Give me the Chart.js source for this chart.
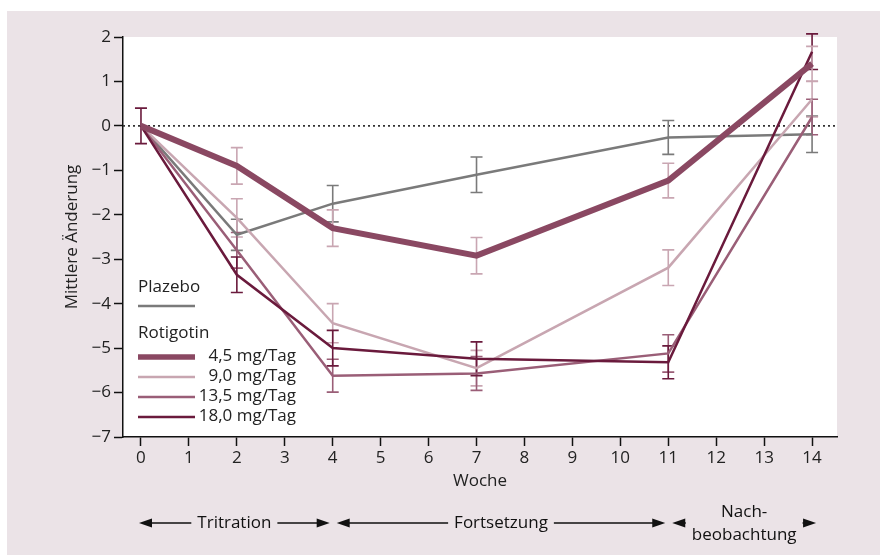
<!DOCTYPE html>
<html>
<head>
<meta charset="utf-8">
<script src="https://cdn.jsdelivr.net/npm/chart.js@4.4.1/dist/chart.umd.min.js"></script>
<style>
    html, body { margin: 0; padding: 0; background: #fff; }
    #wrap { width: 880px; height: 556px; position: relative; }
</style>
</head>
<body>
<div id="wrap"><canvas id="wocheChart"></canvas></div>
<script>
// Werte
const weeks = [0, 2, 4, 7, 11, 14];
const plazebo = [0, -2.45, -1.75, -1.1, -0.26, -0.19];
const plazeboErr = [0, 0.35, 0.41, 0.4, 0.38, 0.41];
const rot45 = [0, -0.9, -2.3, -2.92, -1.23, 1.4];
const rot45Err = [0, 0.41, 0.41, 0.41, 0.39, 0.39];
const rot90 = [0, -2.07, -4.44, -5.45, -3.19, 0.6];
const rot90Err = [0, 0.43, 0.44, 0.4, 0.4, 0.4];
const rot135 = [0, -2.8, -5.62, -5.57, -5.12, 0.2];
const rot135Err = [0, 0.4, 0.37, 0.38, 0.42, 0.4];
const rot180 = [0, -3.35, -5.0, -5.24, -5.32, 1.67];
const rot180Err = [0.4, 0.4, 0.4, 0.38, 0.37, 0.4];
const xTicks = [0, 1, 2, 3, 4, 5, 6, 7, 8, 9, 10, 11, 12, 13, 14];
const yTicks = [-7, -6, -5, -4, -3, -2, -1, 0, 1, 2];
const phaseLabels = [['Tritration'], ['Fortsetzung'], ['Nach-', 'beobachtung']];
const phaseBounds = [[0, 4], [4, 11], [11, 14]];

const FONT = '"Open Sans", "Noto Sans", sans-serif';
const TEXT = '#222';

function points(values) {
    return weeks.map((w, i) => ({ x: w, y: values[i] }));
}

function series(label, values, errors, color, errorColor, width) {
    return {
        label: label,
        data: points(values),
        errors: errors,
        errorColor: errorColor,
        borderColor: color,
        backgroundColor: color,
        borderWidth: width,
        pointRadius: 0,
        tension: 0,
        fill: false
    };
}

const datasets = [
    series('4,5 mg/Tag', rot45, rot45Err, '#8a4862', '#c9a6b2', 6),
    series('18,0 mg/Tag', rot180, rot180Err, '#6a1a3c', '#6a1a3c', 2.5),
    series('13,5 mg/Tag', rot135, rot135Err, '#9a5e77', '#9a5e77', 2.5),
    series('9,0 mg/Tag', rot90, rot90Err, '#c8a6b1', '#c9a6b2', 2.5),
    series('Plazebo', plazebo, plazeboErr, '#7a7a7a', '#7a7a7a', 2.5)
];

const panelPlugin = {
    id: 'panel',
    beforeDraw(chart) {
        const { ctx, chartArea: a } = chart;
        ctx.save();
        ctx.fillStyle = '#ebe3e7';
        ctx.fillRect(7, 11, chart.width - 7, chart.height - 12);
        ctx.fillStyle = '#fff';
        ctx.fillRect(a.left, a.top, a.right - a.left, a.bottom - a.top);
        ctx.restore();
    },
    beforeDatasetsDraw(chart) {
        const { ctx, chartArea: a, scales: { x, y } } = chart;
        ctx.save();
        // gepunktete Nulllinie
        const y0 = y.getPixelForValue(0);
        ctx.strokeStyle = '#333';
        ctx.lineWidth = 1.6;
        ctx.setLineDash([2, 3]);
        ctx.beginPath();
        ctx.moveTo(a.left, y0);
        ctx.lineTo(a.right, y0);
        ctx.stroke();
        ctx.setLineDash([]);

        // Fehlerbalken
        ctx.lineWidth = 1.6;
        chart.data.datasets.slice().reverse().forEach(ds => {
            ctx.strokeStyle = ds.errorColor;
            ds.data.forEach((p, i) => {
                const e = ds.errors[i];
                if (!e) return;
                const px = x.getPixelForValue(p.x);
                const top = y.getPixelForValue(p.y + e);
                const bot = y.getPixelForValue(p.y - e);
                ctx.beginPath();
                ctx.moveTo(px, top);
                ctx.lineTo(px, bot);
                ctx.moveTo(px - 6, top);
                ctx.lineTo(px + 6, top);
                ctx.moveTo(px - 6, bot);
                ctx.lineTo(px + 6, bot);
                ctx.stroke();
            });
        });
        ctx.restore();
    }
};

const legendPlugin = {
    id: 'doseLegend',
    afterDatasetsDraw(chart) {
        const { ctx, chartArea: a } = chart;
        const x0 = a.left + 15;
        const x1 = a.left + 72;
        const tx = a.left + 173;
        ctx.save();
        ctx.font = '17px ' + FONT;
        ctx.fillStyle = TEXT;
        ctx.textBaseline = 'middle';
        ctx.textAlign = 'left';
        ctx.fillText('Plazebo', x0, a.bottom - 150);
        ctx.strokeStyle = '#7a7a7a';
        ctx.lineWidth = 2.5;
        ctx.beginPath();
        ctx.moveTo(x0, a.bottom - 131);
        ctx.lineTo(x1, a.bottom - 131);
        ctx.stroke();
        ctx.fillText('Rotigotin', x0, a.bottom - 104);

        const order = [0, 3, 2, 1];
        order.forEach((idx, i) => {
            const ds = chart.data.datasets[idx];
            const ly = a.bottom - 80 + i * 20;
            ctx.strokeStyle = ds.borderColor;
            ctx.lineWidth = idx === 0 ? 5.5 : 2.5;
            ctx.beginPath();
            ctx.moveTo(x0, ly);
            ctx.lineTo(x1, ly);
            ctx.stroke();
            ctx.textAlign = 'right';
            ctx.fillText(ds.label, tx, ly - 1);
        });
        ctx.restore();
    }
};

const phasePlugin = {
    id: 'phases',
    afterDraw(chart) {
        const { ctx, scales: { x } } = chart;
        const ay = 523;
        ctx.save();
        ctx.font = '17px ' + FONT;
        ctx.fillStyle = '#111';
        ctx.strokeStyle = '#111';
        ctx.lineWidth = 1.5;
        ctx.textAlign = 'center';
        ctx.textBaseline = 'middle';

        function head(tip, dir) {
            ctx.beginPath();
            ctx.moveTo(tip, ay);
            ctx.lineTo(tip + dir * 13, ay - 4.5);
            ctx.lineTo(tip + dir * 13, ay + 4.5);
            ctx.closePath();
            ctx.fill();
        }

        phaseBounds.forEach((b, i) => {
            const left = x.getPixelForValue(b[0]) + (i === 0 ? -2 : 4);
            const right = x.getPixelForValue(b[1]) + (i === 2 ? 4 : -3);
            const lines = phaseLabels[i];
            const cx = (left + right) / 2;
            const w = Math.max(...lines.map(t => ctx.measureText(t).width));
            if (lines.length === 1) {
                ctx.fillText(lines[0], cx, ay);
            } else {
                ctx.fillText(lines[0], cx, ay - 11);
                ctx.fillText(lines[1], cx, ay + 12);
            }
            ctx.beginPath();
            ctx.moveTo(left + 10, ay);
            ctx.lineTo(cx - w / 2 - 6, ay);
            ctx.moveTo(cx + w / 2 + 6, ay);
            ctx.lineTo(right - 10, ay);
            ctx.stroke();
            head(left, 1);
            head(right, -1);
        });
        ctx.restore();
    }
};

new Chart(document.getElementById('wocheChart'), {
    type: 'line',
    data: { datasets: datasets },
    options: {
        responsive: true,
        maintainAspectRatio: false,
        animation: false,
        layout: { padding: { top: 37, right: 43, left: 0, bottom: 0 } },
        plugins: {
            legend: { display: false },
            tooltip: { enabled: false }
        },
        scales: {
            x: {
                type: 'linear',
                min: -0.375,
                max: 14.52,
                afterBuildTicks: s => { s.ticks = xTicks.map(v => ({ value: v })); },
                afterFit: s => { s.height = 119; },
                grid: { drawOnChartArea: false, tickLength: 9, color: '#111', tickWidth: 1.5 },
                border: { color: '#111', width: 1.5 },
                ticks: { color: TEXT, font: { family: FONT, size: 17 }, padding: 2, maxRotation: 0, autoSkip: false },
                title: { display: true, text: 'Woche', color: TEXT, font: { family: FONT, size: 17 }, padding: { top: 0, bottom: 65 } }
            },
            y: {
                min: -7,
                max: 2,
                afterBuildTicks: s => { s.ticks = yTicks.map(v => ({ value: v })); },
                afterFit: s => { s.width = 123; },
                grid: { drawOnChartArea: false, tickLength: 9, color: '#111', tickWidth: 1.5 },
                border: { color: '#111', width: 1.5 },
                ticks: {
                    color: TEXT,
                    font: { family: FONT, size: 17 },
                    padding: 3,
                    callback: v => String(v).replace('-', '\u2212')
                },
                title: { display: true, text: 'Mittlere Änderung', color: TEXT, font: { family: FONT, size: 17 }, padding: { top: 62, bottom: 0 } }
            }
        }
    },
    plugins: [panelPlugin, legendPlugin, phasePlugin]
});
</script>
</body>
</html>
